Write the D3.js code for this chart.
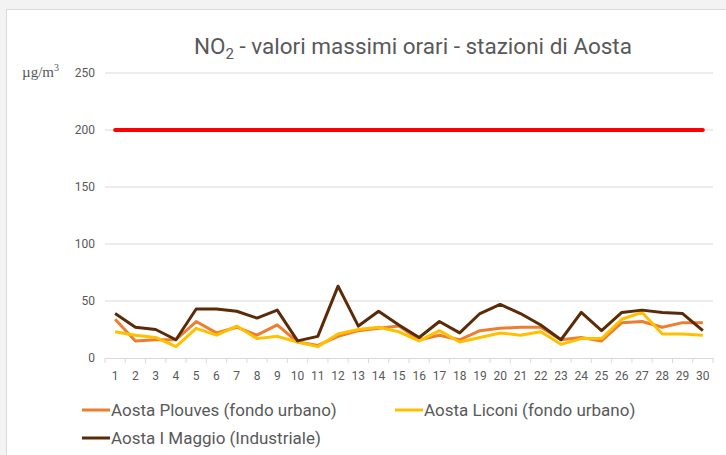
<!DOCTYPE html>
<html>
<head>
<meta charset="utf-8">
<script src="https://cdn.jsdelivr.net/npm/d3@7"></script>
<style>
  body { margin: 0; background: #f4f3f4; }
  text { font-family: "Liberation Sans Narrow", "Arial Narrow", "Roboto", sans-serif; fill: #595959; }
</style>
</head>
<body>
<div id="chart"></div>
<script>
// Data
const days = d3.range(1, 31)
const plouves = [34, 15, 16, 16, 32, 22, 27, 20, 29, 14, 11, 19, 24, 26, 28, 16, 20, 16, 24, 26, 27, 27, 16, 18, 15, 31, 32, 27, 31, 31]
const liconi  = [23, 20, 18, 10, 26, 20, 28, 17, 19, 14, 10, 21, 25, 27, 23, 15, 24, 14, 18, 22, 20, 23, 12, 17, 17, 34, 40, 21, 21, 20]
const maggio  = [39, 27, 25, 16, 43, 43, 41, 35, 42, 15, 19, 63, 28, 41, 29, 18, 32, 22, 39, 47, 39, 29, 16, 40, 24, 40, 42, 40, 39, 24]
const limit   = days.map(() => 200)
const yTicks  = [0, 50, 100, 150, 200, 250]

const series = [
  { name: 'Aosta Plouves (fondo urbano)', values: plouves, color: '#ED7D31' },
  { name: 'Aosta Liconi (fondo urbano)', values: liconi, color: '#FFC000' },
  { name: 'Aosta I Maggio (Industriale)', values: maggio, color: '#5B2B08' }
]

// Canvas
const W = 726, H = 455
const m = { left: 105, right: 13, top: 73, bottom: 97 }
const w = W - m.left - m.right
const h = H - m.top - m.bottom

const svg = d3.select('#chart').append('svg')
    .attr('width', W)
    .attr('height', H)

svg.append('rect')
    .attr('x', 6.5).attr('y', 9.5)
    .attr('width', W).attr('height', H)
    .attr('fill', '#fff')
    .attr('stroke', '#d9d9d9')

// Scales
const x = d3.scaleBand().domain(days).range([0, w])
const y = d3.scaleLinear().domain([0, 250]).range([h, 0])
const cx = d => x(d) + x.bandwidth() / 2

const g = svg.append('g').attr('transform', `translate(${m.left},${m.top})`)

// Grid
g.selectAll('.grid')
    .data(yTicks.filter(t => t > 0)).enter()
    .append('line')
    .attr('x1', 0).attr('x2', w)
    .attr('y1', d => y(d)).attr('y2', d => y(d))
    .attr('stroke', '#d9d9d9')

// Y axis labels
g.selectAll('.ylab')
    .data(yTicks).enter()
    .append('text')
    .attr('x', -10)
    .attr('y', d => y(d) + 4)
    .attr('text-anchor', 'end')
    .style('font-size', '12px')
    .text(d => d)

// X axis
const xAxis = d3.axisBottom(x).tickSize(0).tickPadding(13)
const xg = g.append('g').attr('transform', `translate(0,${h})`).call(xAxis)
xg.select('.domain').attr('stroke', '#d9d9d9')
xg.selectAll('text').style('font-size', '12px').attr('fill', '#595959')
xg.selectAll('.sep')
    .data(days.concat([31])).enter()
    .append('line')
    .attr('x1', (d, i) => i * x.step()).attr('x2', (d, i) => i * x.step())
    .attr('y1', 0).attr('y2', 5)
    .attr('stroke', '#d9d9d9')

// Lines
const line = d3.line().x((d, i) => cx(days[i])).y(d => y(d))

g.append('path')
    .datum(limit)
    .attr('d', line)
    .attr('fill', 'none')
    .attr('stroke', '#FF0000')
    .attr('stroke-width', 4)
    .attr('stroke-linecap', 'round')

series.forEach(s => {
  g.append('path')
      .datum(s.values)
      .attr('d', line)
      .attr('fill', 'none')
      .attr('stroke', s.color)
      .attr('stroke-width', 3)
      .attr('stroke-linejoin', 'round')
})

// Title
const title = svg.append('text')
    .attr('x', 413).attr('y', 54)
    .attr('text-anchor', 'middle')
    .style('font-size', '22.5px')
title.append('tspan').text('NO')
title.append('tspan').attr('dy', 5).style('font-size', '15px').text('2')
title.append('tspan').attr('dy', -5).text(' - valori massimi orari - stazioni di Aosta')

// Unit
const unit = svg.append('text')
    .attr('x', 22).attr('y', 77)
    .style('font-family', '"Liberation Serif", "DejaVu Serif", serif')
    .style('font-size', '15px')
unit.append('tspan').text('\u00b5g/m')
unit.append('tspan').attr('dy', -6).style('font-size', '10px').text('3')

// Legend
const legendPos = [[82, 410], [395, 410], [82, 438]]
series.forEach((s, i) => {
  const lg = svg.append('g').attr('transform', `translate(${legendPos[i][0]},${legendPos[i][1]})`)
  lg.append('line')
      .attr('x1', 0).attr('x2', 28)
      .attr('stroke', s.color)
      .attr('stroke-width', 3)
  lg.append('text')
      .attr('x', 29).attr('y', 6)
      .style('font-size', '17px')
      .text(s.name)
})
</script>
</body>
</html>
